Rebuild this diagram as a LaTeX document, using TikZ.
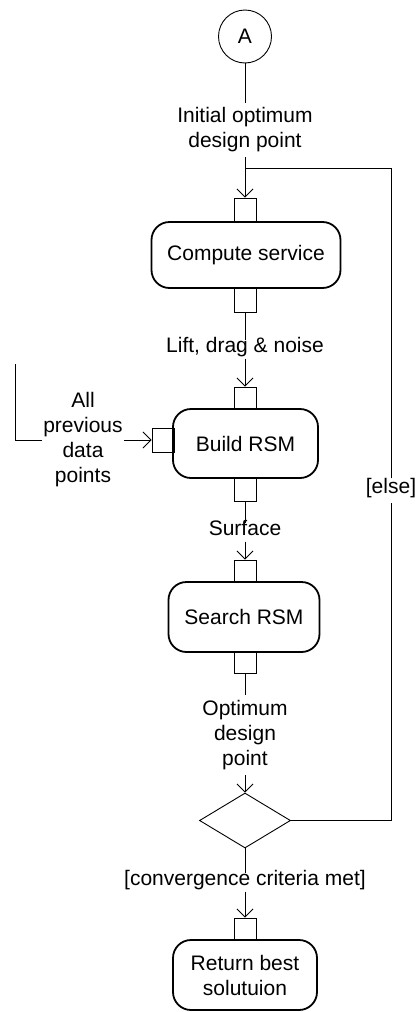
\documentclass[tikz,border=0pt]{standalone}
\usepackage{fontspec}
\setmainfont{Liberation Sans}
\usetikzlibrary{arrows.meta,shapes.geometric}
\begin{document}
\begin{tikzpicture}[x=1pt,y=-1pt,
  every node/.style={font=\fontsize{21}{25}\selectfont},
  action/.style={draw,line width=1.8pt,rounded corners=18pt,align=center,inner sep=0pt},
  pinbox/.style={draw,line width=0.9pt,minimum width=22pt,minimum height=23pt,inner sep=0pt},
  lbl/.style={inner xsep=1pt,inner ysep=4pt,text height=0.75em,text depth=0.25em},
  mlbl/.style={align=center,inner xsep=1pt,inner ysep=5pt},
  flow/.style={line width=0.9pt},
  arr/.style={flow,-{Straight Barb[length=8pt,width=16pt,line width=0.9pt]}}
]
\useasboundingbox (0,0) rectangle (417,1012);

% start connector
\node[draw,circle,line width=0.9pt,minimum size=53pt,inner sep=0pt] (A) at (245,36.5) {A};
\node[mlbl] (initLbl) at (245,130) {Initial optimum\\design point};
\coordinate (J) at (245,168);

% Compute service
\node[pinbox,minimum height=24pt] (p1in) at (245,210) {};
\node[pinbox,minimum height=24pt] (p1out) at (245,300) {};
\node[action,minimum width=189pt,minimum height=66pt] (compute) at (246,255) {Compute service};
\node[lbl] (liftLbl) at (245,349.5) {Lift, drag \& noise};

% Build RSM
\node[pinbox,minimum height=22pt] (p2in) at (245,398) {};
\node[pinbox] (p2out) at (245,489.5) {};
\node[pinbox,minimum width=22pt,minimum height=24pt] (p2left) at (163,440) {};
\node[action,minimum width=145pt,minimum height=69pt] (build) at (245.5,443.5) {Build RSM};
\coordinate (in0) at (15,364);
\coordinate (in1) at (15,440);
\node[mlbl] (prevLbl) at (83,440) {All\\previous\\data\\points};
\node[lbl] (surfLbl) at (245,532.5) {Surface};

% Search RSM
\node[pinbox,minimum height=22pt] (p3in) at (245,571) {};
\node[pinbox,minimum height=21pt] (p3out) at (245,662.5) {};
\node[action,minimum width=151pt,minimum height=70pt] (search) at (244,617) {Search RSM};
\node[mlbl] (optLbl) at (245,735) {Optimum\\design\\point};

% decision and loop back
\node[diamond,draw,line width=0.9pt,minimum width=91pt,minimum height=55pt,inner sep=0pt] (dec) at (245,820.5) {};
\coordinate (cR) at (391,820.5);
\coordinate (cT) at (391,168);
\node[lbl,inner ysep=7pt] (elseLbl) at (391,490.5) {[else]};
\node[lbl] (convLbl) at (245,882.5) {[convergence criteria met]};

% final action
\node[pinbox,minimum height=22pt] (p4in) at (245,929) {};
\node[action,minimum width=144pt,minimum height=70pt] (ret) at (245,975) {Return best\\solutuion};

% connectors
\draw[flow] (A) -- (initLbl) -- (J);
\draw[arr] (J) -- (p1in);
\draw[flow] (p1out) -- (liftLbl);
\draw[arr] (liftLbl) -- (p2in);
\draw[flow] (in0) -- (in1) -- (prevLbl);
\draw[arr] (prevLbl) -- (p2left);
\draw[flow] (p2out) -- (surfLbl);
\draw[arr] (surfLbl) -- (p3in);
\draw[flow] (p3out) -- (optLbl);
\draw[arr] (optLbl) -- (dec);
\draw[flow] (dec.east) -- (cR) -- (elseLbl) -- (cT) -- (J);
\draw[flow] (dec) -- (convLbl);
\draw[arr] (convLbl) -- (p4in);
\end{tikzpicture}
\end{document}
